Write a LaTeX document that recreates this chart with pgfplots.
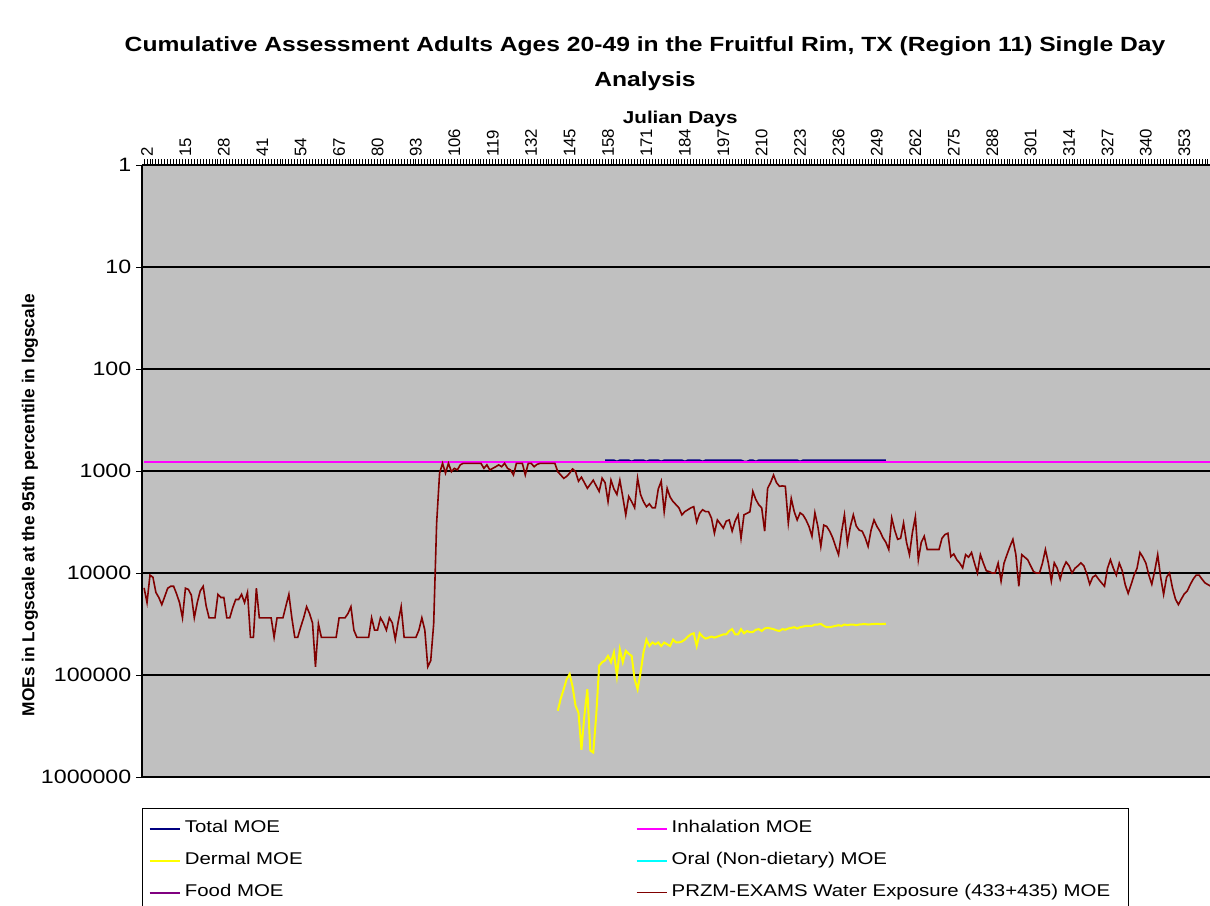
\documentclass[border=0pt]{standalone}
\usepackage{fontspec}
\setmainfont{Liberation Sans}[FakeStretch=1.2]
\newfontfamily\rotfont{Liberation Sans}
\usepackage{pgfplots}
\usepackage{pgfplotstable}
\pgfplotsset{compat=1.18}
\definecolor{plotgray}{HTML}{C0C0C0}
\definecolor{totalc}{HTML}{000080}
\definecolor{inhc}{HTML}{FF00FF}
\definecolor{dermc}{HTML}{FFFF00}
\definecolor{oralc}{HTML}{00FFFF}
\definecolor{foodc}{HTML}{800080}
\definecolor{przmc}{HTML}{800000}

\pgfplotstableread[row sep=\\]{
x y\\
1 14000\\ 2 19500\\ 3 10500\\ 4 11000\\ 5 15500\\ 6 17400\\ 7 20400\\ 8 17000\\ 9 14100\\ 10 13500\\
11 13500\\ 12 16000\\ 13 19500\\ 14 27500\\ 15 14100\\ 16 14500\\ 17 16500\\ 18 27500\\ 19 19500\\ 20 15000\\
21 13500\\ 22 21000\\ 23 27500\\ 24 27500\\ 25 27500\\ 26 16200\\ 27 17400\\ 28 17400\\ 29 27500\\ 30 27500\\
31 21900\\ 32 18200\\ 33 18200\\ 34 16200\\ 35 19500\\ 36 15500\\ 37 42700\\ 38 42700\\ 39 14100\\ 40 27500\\
41 27500\\ 42 27500\\ 43 27500\\ 44 27500\\ 45 42700\\ 46 27500\\ 47 27500\\ 48 27500\\ 49 21000\\ 50 16200\\
51 27500\\ 52 42700\\ 53 42700\\ 54 33900\\ 55 27500\\ 56 21400\\ 57 25000\\ 58 30900\\ 59 83000\\ 60 31600\\
61 42700\\ 62 42700\\ 63 42700\\ 64 42700\\ 65 42700\\ 66 42700\\ 67 27500\\ 68 27500\\ 69 27500\\ 70 25000\\
71 21400\\ 72 36300\\ 73 42700\\ 74 42700\\ 75 42700\\ 76 42700\\ 77 42700\\ 78 27500\\ 79 36300\\ 80 36300\\
81 27500\\ 82 30900\\ 83 36300\\ 84 27500\\ 85 30900\\ 86 44700\\ 87 30000\\ 88 21400\\ 89 42700\\ 90 42700\\
91 42700\\ 92 42700\\ 93 42700\\ 94 36300\\ 95 27500\\ 96 36300\\ 97 83000\\ 98 72400\\ 99 31600\\ 100 3240\\
101 1050\\ 102 841\\ 103 1050\\ 104 841\\ 105 1016\\ 106 942\\ 107 977\\ 108 870\\ 109 841\\ 110 841\\
111 841\\ 112 841\\ 113 841\\ 114 841\\ 115 841\\ 116 942\\ 117 870\\ 118 977\\ 119 942\\ 120 908\\
121 871\\ 122 908\\ 123 841\\ 124 942\\ 125 977\\ 126 1094\\ 127 841\\ 128 841\\ 129 841\\ 130 1094\\
131 841\\ 132 841\\ 133 908\\ 134 860\\ 135 841\\ 136 841\\ 137 841\\ 138 841\\ 139 841\\ 140 841\\
141 1016\\ 142 1094\\ 143 1180\\ 144 1130\\ 145 1050\\ 146 955\\ 147 1016\\ 148 1259\\ 149 1150\\ 150 1300\\
151 1479\\ 152 1350\\ 153 1230\\ 154 1400\\ 155 1585\\ 156 1175\\ 157 1300\\ 158 1995\\ 159 1230\\ 160 1500\\
161 1698\\ 162 1230\\ 163 1800\\ 164 2692\\ 165 1778\\ 166 2000\\ 167 2291\\ 168 1175\\ 169 1700\\ 170 2000\\
171 2239\\ 172 2100\\ 173 2300\\ 174 2291\\ 175 1500\\ 176 1259\\ 177 2512\\ 178 1479\\ 179 1800\\ 180 1995\\
181 2138\\ 182 2300\\ 183 2692\\ 184 2500\\ 185 2400\\ 186 2300\\ 187 2239\\ 188 3162\\ 189 2600\\ 190 2399\\
191 2500\\ 192 2500\\ 193 2900\\ 194 4074\\ 195 3020\\ 196 3300\\ 197 3631\\ 198 3100\\ 199 3020\\ 200 3890\\
201 3100\\ 202 2692\\ 203 4571\\ 204 2692\\ 205 2600\\ 206 2512\\ 207 1585\\ 208 1900\\ 209 2138\\ 210 2300\\
211 3890\\ 212 1479\\ 213 1300\\ 214 1096\\ 215 1300\\ 216 1413\\ 217 1400\\ 218 1413\\ 219 3236\\ 220 1862\\
221 2500\\ 222 3020\\ 223 2570\\ 224 2700\\ 225 3020\\ 226 3500\\ 227 4365\\ 228 2570\\ 229 3500\\ 230 5495\\
231 3388\\ 232 3500\\ 233 3890\\ 234 4500\\ 235 5495\\ 236 6607\\ 237 4000\\ 238 2692\\ 239 5129\\ 240 3500\\
241 2692\\ 242 3467\\ 243 3800\\ 244 3890\\ 245 4500\\ 246 5495\\ 247 3800\\ 248 3020\\ 249 3500\\ 250 3890\\
251 4500\\ 252 5000\\ 253 5888\\ 254 2884\\ 255 3800\\ 256 4677\\ 257 4571\\ 258 3236\\ 259 5000\\ 260 6607\\
261 4000\\ 262 2818\\ 263 7413\\ 264 5000\\ 265 4365\\ 266 5888\\ 267 5888\\ 268 5888\\ 269 5888\\ 270 5888\\
271 4571\\ 272 4200\\ 273 4074\\ 274 6918\\ 275 6500\\ 276 7400\\ 277 8000\\ 278 8913\\ 279 6607\\ 280 7000\\
281 6300\\ 282 8000\\ 283 10000\\ 284 6607\\ 285 8000\\ 286 9500\\ 287 9700\\ 288 10000\\ 289 10000\\ 290 8000\\
291 12020\\ 292 8000\\ 293 6607\\ 294 5500\\ 295 4677\\ 296 6607\\ 297 13490\\ 298 6607\\ 299 7000\\ 300 7413\\
301 8500\\ 302 9700\\ 303 10000\\ 304 10000\\ 305 8000\\ 306 5888\\ 307 8000\\ 308 12020\\ 309 7943\\ 310 9000\\
311 11500\\ 312 9000\\ 313 7800\\ 314 8500\\ 315 10000\\ 316 9000\\ 317 8500\\ 318 7943\\ 319 8500\\ 320 10200\\
321 12880\\ 322 11000\\ 323 10500\\ 324 11500\\ 325 12500\\ 326 13490\\ 327 9000\\ 328 7413\\ 329 9000\\ 330 10500\\
331 8000\\ 332 9500\\ 333 13000\\ 334 15850\\ 335 13000\\ 336 10500\\ 337 9000\\ 338 6300\\ 339 7000\\ 340 8000\\
341 10500\\ 342 12880\\ 343 9500\\ 344 6607\\ 345 11000\\ 346 16220\\ 347 11000\\ 348 10000\\ 349 14000\\ 350 18000\\
351 20420\\ 352 18000\\ 353 16000\\ 354 15000\\ 355 13000\\ 356 11500\\ 357 10500\\ 358 10500\\ 359 11500\\ 360 12500\\
361 13000\\ 362 13490\\ 363 12500\\ 364 12000\\ 365 12000\\
}\przm

\pgfplotstableread[row sep=\\]{
x y\\
141 224000\\ 142 170000\\ 143 138000\\ 144 110000\\ 145 98000\\ 146 130000\\ 147 200000\\ 148 234000\\ 149 540000\\ 150 250000\\
151 138000\\ 152 550000\\ 153 575000\\ 154 250000\\ 155 81000\\ 156 75000\\ 157 72000\\ 158 65000\\ 159 75000\\ 160 60000\\
161 102000\\ 162 56000\\ 163 75000\\ 164 58000\\ 165 62000\\ 166 65000\\ 167 110000\\ 168 138000\\ 169 95000\\ 170 60000\\
171 45000\\ 172 52000\\ 173 48000\\ 174 50000\\ 175 48000\\ 176 52000\\ 177 48000\\ 178 50000\\ 179 52000\\ 180 45000\\
181 48000\\ 182 48000\\ 183 47000\\ 184 45000\\ 185 42000\\ 186 40000\\ 187 39000\\ 188 52000\\ 189 39000\\ 190 42000\\
191 44000\\ 192 43000\\ 193 42000\\ 194 43000\\ 195 42000\\ 196 41000\\ 197 40000\\ 198 40000\\ 199 37000\\ 200 35500\\
201 40000\\ 202 40000\\ 203 35500\\ 204 39000\\ 205 37000\\ 206 38000\\ 207 38000\\ 208 36000\\ 209 35500\\ 210 37000\\
211 35000\\ 212 34500\\ 213 35000\\ 214 35500\\ 215 36500\\ 216 37000\\ 217 35500\\ 218 36000\\ 219 35000\\ 220 34500\\
221 34000\\ 222 35000\\ 223 34000\\ 224 33500\\ 225 33000\\ 226 33000\\ 227 33000\\ 228 32000\\ 229 32000\\ 230 31500\\
231 33000\\ 232 34000\\ 233 34000\\ 234 33500\\ 235 33000\\ 236 32500\\ 237 33000\\ 238 32000\\ 239 32500\\ 240 32000\\
241 32000\\ 242 32500\\ 243 32000\\ 244 31800\\ 245 31700\\ 246 32000\\ 247 31800\\ 248 31600\\ 249 31500\\ 250 31700\\
251 31600\\ 252 31500\\
}\dermal

\pgfplotstableread[row sep=\\]{
x y\\
157 790\\ 158 790\\ 159 790\\ 160 790\\ 161 812\\ 162 790\\ 163 790\\ 164 790\\ 165 790\\ 166 812\\
167 790\\ 168 790\\ 169 790\\ 170 790\\ 171 812\\ 172 790\\ 173 790\\ 174 790\\ 175 790\\ 176 812\\
177 790\\ 178 790\\ 179 790\\ 180 790\\ 181 790\\ 182 790\\ 183 790\\ 184 812\\ 185 790\\ 186 790\\
187 790\\ 188 790\\ 189 790\\ 190 812\\ 191 790\\ 192 790\\ 193 790\\ 194 790\\ 195 790\\ 196 790\\
197 790\\ 198 790\\ 199 790\\ 200 790\\ 201 790\\ 202 790\\ 203 790\\ 204 812\\ 205 812\\ 206 790\\
207 790\\ 208 812\\ 209 790\\ 210 790\\ 211 790\\ 212 790\\ 213 790\\ 214 790\\ 215 790\\ 216 790\\
217 790\\ 218 790\\ 219 790\\ 220 790\\ 221 790\\ 222 790\\ 223 812\\ 224 790\\ 225 790\\ 226 790\\
227 790\\ 228 790\\ 229 790\\ 230 790\\ 231 790\\ 232 790\\ 233 790\\ 234 790\\ 235 790\\ 236 790\\
237 790\\ 238 790\\ 239 790\\ 240 790\\ 241 790\\ 242 790\\ 243 790\\ 244 790\\ 245 790\\ 246 790\\
247 790\\ 248 790\\ 249 790\\ 250 790\\ 251 790\\ 252 790\\
}\total

\begin{document}
\begin{tikzpicture}
\begin{axis}[
  at={(106.5pt,96.75pt)}, anchor=south west,
  scale only axis, width=801pt, height=459pt,
  xmin=0.3, xmax=361.7,
  ymode=log, ymin=1, ymax=1000000, y dir=reverse,
  axis x line*=top, axis y line*=left,
  axis line style={black, line width=0.9pt},
  axis background/.style={fill=plotgray},
  xtick={2,15,...,353},
  minor xtick={1,...,362},
  tick align=outside,
  major tick length=4.5pt, minor tick length=4.5pt,
  every tick/.style={black, line width=0.7pt},
  xticklabel={\pgfmathprintnumber[assume math mode=true]{\tick}},
  xticklabel style={rotate=90, anchor=west, font=\rotfont\fontsize{12.6}{12}\selectfont, inner sep=1.5pt},
  ytick={1,10,100,1000,10000,100000,1000000},
  yticklabels={1,10,100,1000,10000,100000,1000000},
  yminorticks=false,
  yticklabel style={font=\fontsize{14.5}{14}\selectfont},
  ymajorgrids, major grid style={black, line width=1.1pt},
  title={Cumulative Assessment Adults Ages 20-49 in the Fruitful Rim, TX (Region 11) Single Day\\Analysis},
  title style={font=\bfseries\fontsize{15.4}{26}\selectfont, align=center, at={(axis description cs:0.471,1.153)}, anchor=center},
  xlabel={Julian Days},
  xlabel style={font=\bfseries\fontsize{12.9}{14}\selectfont, at={(axis description cs:0.504,1.075)}, anchor=center},
  ylabel={MOEs in Logscale at the 95th percentile in logscale},
  ylabel style={font=\rotfont\bfseries\fontsize{13}{14}\selectfont, at={(axis description cs:-0.105,0.444)}, anchor=center},
  legend columns=2,
  legend cell align=left,
  legend image code/.code={\draw[#1] (0pt,0pt) -- (22.5pt,0pt);},
  legend style={at={(axis description cs:0,-0.0507)}, anchor=north west,
    draw=black, line width=0.9pt, fill=white,
    font=\fontsize{12.75}{14}\selectfont,
    inner xsep=4.5pt, inner ysep=9pt, row sep=12pt,
    nodes={text width=338pt, align=left, inner sep=0pt, text height=9pt, text depth=3pt},
    /tikz/every odd column/.append style={column sep=3pt}},
]
\addplot[totalc, line width=1.7pt] table[x=x,y=y] {\total};
\addlegendentry{Total MOE}
\addplot[inhc, line width=1.6pt] coordinates {(1,810) (365,810)};
\addlegendentry{Inhalation MOE}
\addplot[dermc, line width=1.5pt] table[x=x,y=y] {\dermal};
\addlegendentry{Dermal MOE}
\addlegendimage{oralc, line width=1.6pt}
\addlegendentry{Oral (Non-dietary) MOE}
\addlegendimage{foodc, line width=1.6pt}
\addlegendentry{Food MOE}
\addplot[przmc, line width=1.2pt] table[x=x,y=y] {\przm};
\addlegendentry{PRZM-EXAMS Water Exposure (433+435) MOE}
\end{axis}
\pgfresetboundingbox
\path[use as bounding box] (0,0) rectangle (907.5pt,679.5pt);
\end{tikzpicture}
\end{document}
